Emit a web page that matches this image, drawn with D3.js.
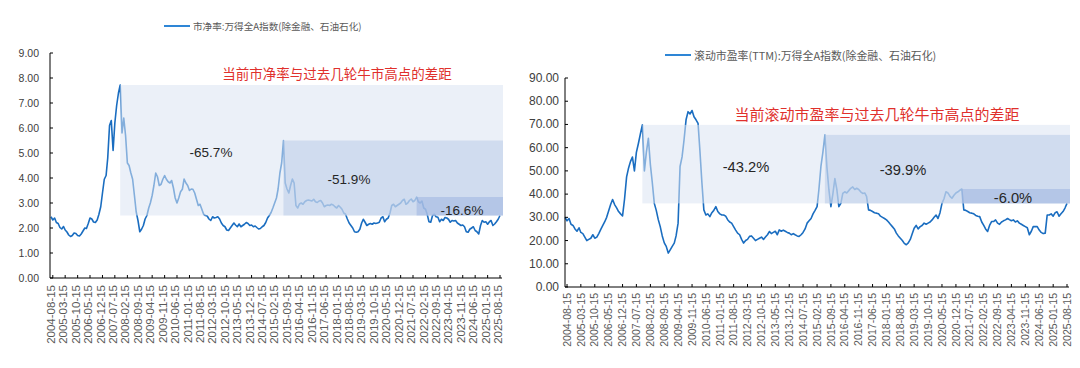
<!DOCTYPE html>
<html><head><meta charset="utf-8">
<script src="https://cdn.jsdelivr.net/npm/d3@7"></script>
<style>body{margin:0;background:#fff}svg{display:block}</style>
</head><body>
<svg id="c" width="1080" height="368"></svg>
<script>
const xTickLabels = ["2004-08-15","2005-03-15","2005-10-15","2006-05-15","2006-12-15","2007-07-15","2008-02-15","2008-09-15","2009-04-15","2009-11-15","2010-06-15","2011-01-15","2011-08-15","2012-03-15","2012-10-15","2013-05-15","2013-12-15","2014-07-15","2015-02-15","2015-09-15","2016-04-15","2016-11-15","2017-06-15","2018-01-15","2018-08-15","2019-03-15","2019-10-15","2020-05-15","2020-12-15","2021-07-15","2022-02-15","2022-09-15","2023-04-15","2023-11-15","2024-06-15","2025-01-15","2025-08-15"];
const startMonth = "2004-07-15";
// 市净率 monthly, 2004-07 .. 2025-08
const pbValues = [
2.45,2.32,2.40,2.22,2.18,2.02,
1.96,2.06,1.92,1.84,1.72,1.66,1.70,1.80,1.78,1.70,1.68,1.76,
1.88,2.00,1.98,2.18,2.40,2.36,2.24,2.22,2.32,2.55,2.85,3.40,
3.95,4.10,4.80,6.10,6.30,5.10,6.20,6.90,7.40,7.72,5.80,6.40,
5.70,4.60,4.50,4.20,3.95,3.30,2.65,2.30,1.85,1.95,2.10,2.36,
2.50,2.80,3.00,3.30,3.70,4.20,4.05,3.70,3.75,3.95,4.10,3.95,
3.85,3.80,3.90,3.60,3.20,3.00,3.20,3.45,3.55,3.96,3.80,3.70,
3.50,3.56,3.55,3.40,3.15,2.90,2.95,2.75,2.55,2.50,2.48,2.36,
2.30,2.45,2.40,2.42,2.45,2.36,2.20,2.10,2.05,1.92,1.90,2.00,
2.10,2.20,2.12,2.05,2.16,2.05,2.10,2.15,2.22,2.18,2.10,2.12,
2.05,2.08,2.02,1.96,1.98,2.05,2.10,2.22,2.40,2.50,2.62,2.80,
3.00,3.20,3.56,4.20,4.60,5.50,3.80,3.56,3.40,3.70,3.96,3.80,
2.90,2.80,2.96,3.00,2.95,3.05,3.10,3.12,3.10,3.08,3.15,3.05,
3.02,3.08,3.10,3.00,2.85,2.90,2.92,2.90,2.95,2.92,2.85,2.80,
2.90,2.83,2.75,2.60,2.55,2.36,2.20,2.10,2.00,1.85,1.83,1.85,
1.95,2.20,2.35,2.23,2.10,2.15,2.18,2.15,2.20,2.18,2.20,2.23,
2.40,2.45,2.25,2.35,2.40,2.60,2.90,2.95,2.85,2.90,2.95,3.00,
3.10,3.15,2.95,3.00,3.10,3.16,3.05,3.10,3.24,3.05,3.00,3.08,
2.80,2.75,2.55,2.25,2.23,2.50,2.55,2.45,2.43,2.25,2.35,2.30,
2.42,2.40,2.35,2.23,2.30,2.28,2.30,2.20,2.15,2.10,2.12,2.05,
1.85,1.83,1.95,2.00,2.05,1.90,1.85,1.76,2.10,2.30,2.23,2.25,
2.15,2.25,2.30,2.10,2.16,2.25,2.35,2.50];
// 滚动市盈率(TTM) monthly, 2004-07 .. 2025-08
const peValues = [
30.0,28.5,29.5,27.0,26.5,25.0,
24.0,25.5,23.5,23.0,21.5,20.0,20.5,21.0,22.5,21.0,21.5,23.0,
24.8,26.5,28.0,30.0,32.7,35.5,37.7,35.5,34.1,32.5,31.5,30.6,
38.0,47.4,51.0,54.0,56.0,50.0,58.0,61.8,66.0,69.8,50.0,58.0,
64.0,52.6,45.0,36.0,33.0,29.0,26.0,22.0,19.0,17.5,14.6,16.0,
17.5,18.9,22.0,27.5,51.9,56.0,63.3,72.0,75.5,74.5,76.0,73.3,
72.0,70.5,59.0,45.0,33.2,31.0,31.5,30.3,32.0,33.0,34.6,32.5,
31.5,31.0,31.0,30.5,29.0,28.0,27.5,26.0,24.5,23.2,22.5,20.5,
18.9,20.0,20.5,21.8,22.0,21.0,20.0,20.5,21.0,21.5,20.5,21.5,
22.5,23.9,23.0,23.5,24.0,22.5,24.6,24.0,24.5,24.0,23.5,23.2,
22.5,23.0,22.5,22.0,21.8,22.5,23.5,25.0,27.5,28.5,29.5,31.5,
33.0,34.6,42.0,51.9,58.0,65.5,51.9,42.0,34.6,40.0,46.7,42.0,
34.6,36.0,40.3,41.0,40.5,41.5,42.5,43.1,42.0,42.5,42.0,41.0,
40.3,40.5,39.0,33.2,33.0,32.5,32.0,31.8,31.5,30.5,30.0,29.5,
28.9,28.0,27.0,26.0,25.0,23.2,22.0,21.0,20.0,18.8,18.2,19.0,
20.5,23.0,25.3,26.5,25.0,26.0,26.5,27.5,27.0,27.5,28.0,28.9,
30.0,31.0,29.5,32.0,36.0,38.0,41.0,40.5,39.0,38.2,39.5,40.5,
41.0,41.7,42.2,33.2,33.0,32.5,32.0,31.8,31.5,30.8,30.5,30.3,
28.0,26.5,25.0,23.9,26.5,28.2,28.2,28.9,27.5,27.0,28.0,28.5,
28.9,29.5,29.0,28.5,28.9,28.0,28.5,27.5,27.0,26.5,26.0,25.5,
22.5,24.0,26.0,26.0,26.0,24.5,23.5,23.0,23.2,31.0,31.0,31.5,
30.5,32.0,32.4,30.5,31.5,32.5,34.0,36.0];
const pbPeakDates = ["2007-10-15","2015-06-15","2021-09-15"];
const pbGapLabels = ["-65.7%","-51.9%","-16.6%"];
const pePeakDates = ["2007-10-15","2015-06-15","2021-03-15"];
const peGapLabels = ["-43.2%","-39.9%","-6.0%"];
const pbYTicks = [0,1,2,3,4,5,6,7,8,9];
const peYTicks = [0,10,20,30,40,50,60,70,80,90];
const pbLegend = "市净率:万得全A指数(除金融、石油石化)";
const peLegend = "滚动市盈率(TTM):万得全A指数(除金融、石油石化)";
const pbTitle = "当前市净率与过去几轮牛市高点的差距";
const peTitle = "当前滚动市盈率与过去几轮牛市高点的差距";

const parse = d3.timeParse("%Y-%m-%d");
const d0 = parse(startMonth);
const dates = pbValues.map((_, i) => new Date(d0.getFullYear(), d0.getMonth() + i, 15));
const svg = d3.select("#c");

function drawChart(c) {
  const g = svg.append("g");
  const x = d3.scaleTime().domain([d0, parse(xTickLabels[xTickLabels.length - 1])]).range([c.x0, c.x1]);
  const y = d3.scaleLinear().domain([0, c.yMax]).range([c.yb, c.yt]);
  const data = dates.map((d, i) => ({d, v: c.values[i]}));
  const line = d3.line().x(p => x(p.d)).y(p => y(p.v));
  g.append("path").datum(data).attr("d", line)
    .attr("fill", "none").attr("stroke", "#1a6dc0").attr("stroke-width", 1.6)
    .attr("stroke-linejoin", "round");
  const last = c.values[c.values.length - 1];
  const fills = ["#dae3f3", "#b4c7e7", "#8faadc"];
  const ops = [0.55, 0.49, 0.43];
  c.peaks.forEach((pd, i) => {
    const dd = parse(pd);
    const idx = dates.findIndex(d => +d === +dd);
    const top = c.values[idx];
    g.append("rect").attr("x", x(dd)).attr("y", y(top))
      .attr("width", c.x1 + 3 - x(dd)).attr("height", y(last) - y(top))
      .attr("fill", fills[i]).attr("fill-opacity", ops[i]);
  });
  c.gaps.forEach((t, i) => {
    g.append("text").attr("x", c.gapPos[i][0]).attr("y", c.gapPos[i][1])
      .attr("text-anchor", "middle").attr("dominant-baseline", "central")
      .attr("font-family", "Liberation Sans, Arial, sans-serif").attr("font-size", c.gapSize)
      .attr("fill", "#262626").text(t);
  });
  const axStroke = "#000";
  g.append("line").attr("x1", c.ax).attr("x2", c.ax).attr("y1", y(c.yMax)).attr("y2", c.yb).attr("stroke", axStroke).attr("stroke-width", 1);
  g.append("line").attr("x1", c.ax).attr("x2", c.x1 + 2).attr("y1", c.yb).attr("y2", c.yb).attr("stroke", axStroke).attr("stroke-width", 1);
  c.yTicks.forEach(t => {
    g.append("line").attr("x1", c.ax).attr("x2", c.ax + 3).attr("y1", y(t)).attr("y2", y(t)).attr("stroke", axStroke);
    g.append("text").attr("x", c.ax - c.yLabelGap).attr("y", y(t)).attr("text-anchor", "end")
      .attr("dominant-baseline", "central").attr("font-family", "Liberation Sans, Arial, sans-serif")
      .attr("font-size", c.yFont).attr("fill", "#404040").text(d3.format(".2f")(t));
  });
  xTickLabels.forEach(lbl => {
    const xx = x(parse(lbl));
    g.append("line").attr("x1", xx).attr("x2", xx).attr("y1", c.yb).attr("y2", c.yb - 3).attr("stroke", axStroke);
    g.append("text").attr("transform", `translate(${xx + c.xLabelShift},${c.yb + c.xLabelGap}) rotate(-90)`)
      .attr("text-anchor", "end").attr("dy", "0.35em")
      .attr("font-family", "Liberation Sans, Arial, sans-serif").attr("font-size", c.xFont)
      .attr("fill", "#595959").text(lbl);
  });
  g.append("line").attr("x1", c.legX).attr("x2", c.legX + 26).attr("y1", c.legY).attr("y2", c.legY)
    .attr("stroke", "#2e86d6").attr("stroke-width", 2);
  g.append("text").attr("x", c.legX + 29).attr("y", c.legY).attr("dominant-baseline", "central")
    .attr("font-family", "Noto Sans CJK SC, sans-serif").attr("font-size", c.legFont)
    .attr("fill", "#595959").text(c.legend);
  g.append("text").attr("x", c.titleX).attr("y", c.titleY).attr("text-anchor", "middle")
    .attr("dominant-baseline", "central").attr("font-family", "Noto Sans CJK SC, sans-serif")
    .attr("font-size", c.titleFont).attr("fill", "#e0302c").text(c.title);
}

drawChart({x0: 51, x1: 500, yb: 278, yt: 53, yMax: 9, ax: 50, values: pbValues,
  peaks: pbPeakDates, gaps: pbGapLabels, gapPos: [[211, 152], [349, 179], [462, 210]], gapSize: 13.5,
  yTicks: pbYTicks, yLabelGap: 11, yFont: 10.5, xFont: 11.5, xLabelGap: 7, xLabelShift: -2,
  legX: 164, legY: 26, legFont: 9.6, legend: pbLegend,
  titleX: 337, titleY: 73, titleFont: 13.5, title: pbTitle});

drawChart({x0: 565, x1: 1067, yb: 287, yt: 78, yMax: 90, ax: 565, values: peValues,
  peaks: pePeakDates, gaps: peGapLabels, gapPos: [[746, 167], [903, 170], [1013, 198]], gapSize: 14.7,
  yTicks: peYTicks, yLabelGap: 6, yFont: 12, xFont: 10.5, xLabelGap: 6, xLabelShift: 0,
  legX: 665, legY: 55, legFont: 10.9, legend: peLegend,
  titleX: 877, titleY: 113, titleFont: 15, title: peTitle});
</script>
</body></html>
